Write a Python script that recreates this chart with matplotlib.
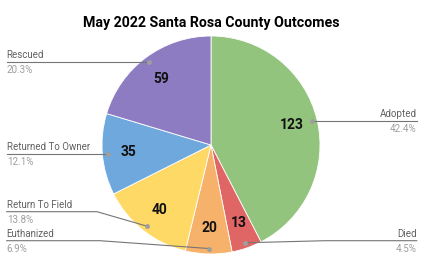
import numpy as np
import matplotlib.pyplot as plt

plt.rcParams["font.family"] = ["Roboto", "DejaVu Sans"]

categories = ["Adopted", "Died", "Euthanized", "Return To Field", "Returned To Owner", "Rescued"]
counts = [123, 13, 20, 40, 35, 59]
colors = ["#93c47d", "#e06666", "#f6b26b", "#ffd966", "#6fa8dc", "#8e7cc3"]
title = "May 2022 Santa Rosa County Outcomes"

W, H = 423, 261
fig = plt.figure(figsize=(W / 100, H / 100), dpi=100)
ax = fig.add_axes([0, 0, 1, 1])

cx, cy, R = 211, H - 145, 109
wedges, _ = ax.pie(counts, colors=colors, startangle=90, counterclock=False,
                   center=(cx, cy), radius=R,
                   wedgeprops=dict(edgecolor="white", linewidth=0.6))
ax.set_xlim(0, W)
ax.set_ylim(0, H)
ax.axis("off")

# side, leader line y (image px, None = at anchor), elbow x
layout = {
    "Adopted": ("R", None, None),
    "Died": ("R", 240.7, 325),
    "Euthanized": ("L", 240.7, 100),
    "Return To Field": ("L", 211.7, 97),
    "Returned To Owner": ("L", None, None),
    "Rescued": ("L", None, None),
}

total = sum(counts)
for w, name, n in zip(wedges, categories, counts):
    mid = np.deg2rad((w.theta1 + w.theta2) / 2)
    # value inside the slice
    ax.text(cx + 0.76 * R * np.cos(mid), cy + 0.76 * R * np.sin(mid), str(n),
            ha="center", va="center", fontsize=10, fontweight="bold", color="#111111")
    # leader line
    axx = cx + 0.95 * R * np.cos(mid)
    axy = cy + 0.95 * R * np.sin(mid)
    side, line_y, elbow = layout[name]
    ly = axy if line_y is None else H - line_y
    ex = axx if elbow is None else elbow
    tx = 6.7 if side == "L" else 416.7
    ha = "left" if side == "L" else "right"
    ax.plot([tx, ex, axx], [ly, ly, axy], color="#757575", lw=0.8)
    ax.plot([axx], [axy], "o", ms=2.5, color="#9e9e9e")
    ax.text(tx, ly + 4, name, ha=ha, va="baseline", fontsize=7, color="#616161")
    ax.text(tx, ly - 11, "{:.1f}%".format(100 * n / total), ha=ha, va="baseline",
            fontsize=7, color="#9e9e9e")

ax.text(211, H - 27.3, title, ha="center", va="baseline", fontsize=10.2,
        fontweight="bold", color="#000000")

plt.savefig("out.png", dpi=100)
